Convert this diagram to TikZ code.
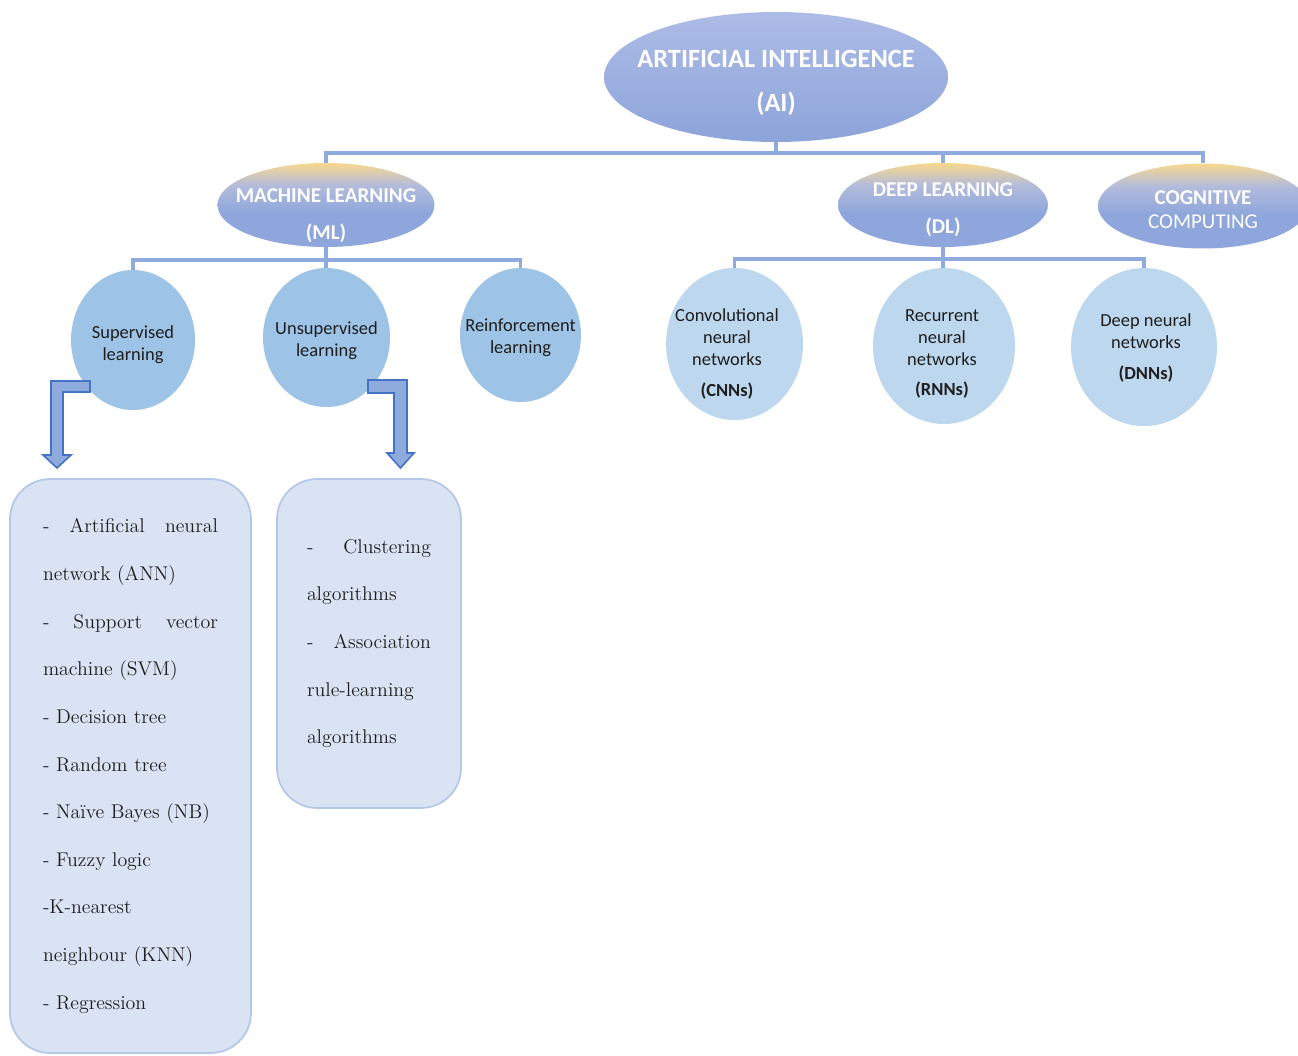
\documentclass[tikz,border=0pt]{standalone}
\usepackage{fontspec}
\setsansfont{Carlito}
\usepackage{xcolor}
\usetikzlibrary{shapes.geometric}

\definecolor{linkblue}{HTML}{8FAADC}
\definecolor{aitop}{HTML}{ADBCE6}
\definecolor{aibot}{HTML}{8DA4DA}
\definecolor{elltop}{HTML}{F6D88E}
\definecolor{ellmid}{HTML}{B4BCDA}
\definecolor{ellbot}{HTML}{8EA6DC}
\definecolor{mlcirc}{HTML}{9DC3E6}
\definecolor{dlcirc}{HTML}{BDD7EE}
\definecolor{boxfill}{HTML}{DAE3F3}
\definecolor{boxline}{HTML}{B4C7E7}
\definecolor{arrowfill}{HTML}{8FAADC}
\definecolor{arrowline}{HTML}{4472C4}
\definecolor{textdark}{HTML}{1E1E1E}

\pgfdeclareverticalshading{goldblue}{100bp}{color(0bp)=(ellbot); color(25bp)=(ellbot); color(45bp)=(ellbot); color(62bp)=(ellmid); color(75bp)=(elltop); color(100bp)=(elltop)}

\newcommand{\spreadline}[2]{\makebox[#1][s]{#2}}

\begin{document}
\begin{tikzpicture}[x=0.02cm,y=-0.02cm,
  aiell/.style={ellipse,inner sep=0pt,top color=aitop,bottom color=aibot},
  subell/.style={ellipse,inner sep=0pt,shade,shading=goldblue},
  mlball/.style={ellipse,inner sep=0pt,fill=mlcirc},
  dlball/.style={ellipse,inner sep=0pt,fill=dlcirc},
  aitxt/.style={font=\sffamily\bfseries\fontsize{15}{25}\selectfont,text=white,align=center,inner sep=0pt},
  subtxt/.style={font=\sffamily\bfseries\fontsize{12}{21}\selectfont,text=white,align=center,inner sep=0pt},
  balltxt/.style={font=\sffamily\fontsize{10.5}{12.5}\selectfont,text=textdark,align=center,inner sep=0pt},
  listbox/.style={rectangle,rounded corners=0.8cm,fill=boxfill,draw=boxline,line width=1pt,
    font=\rmfamily\fontsize{11.3}{27.1}\selectfont,text=textdark,align=left,inner sep=0pt},
  branch/.style={draw=linkblue,line width=2pt},
  barrow/.style={fill=arrowfill,draw=arrowline,line width=0.9pt,line join=miter}]
\fill[white] (0,0) rectangle (1298,1055);
\useasboundingbox (0,0) rectangle (1298,1055);
\clip (0,0) rectangle (1298,1055);

% top level
\node[aiell,minimum width=6.88cm,minimum height=2.6cm] (ai) at (776,77) {};
\node[aitxt] (aitext) at (776,83) {ARTIFICIAL INTELLIGENCE\\(AI)};

\node[subell,minimum width=4.34cm,minimum height=1.68cm] (ml) at (326,205) {};
\node[subell,minimum width=4.2cm,minimum height=1.68cm] (dl) at (943,205) {};
\node[subell,minimum width=4.2cm,minimum height=1.7cm] (cc) at (1203,206) {};
\node[subtxt] (mltext) at (326,216) {MACHINE LEARNING\\(ML)};
\node[subtxt] (dltext) at (943,210) {DEEP LEARNING\\(DL)};
\node[subtxt,font=\sffamily\fontsize{12}{13.7}\selectfont] (cctext) at (1203,210) {\textbf{COGNITIVE}\\COMPUTING};

% machine learning branch
\node[mlball,minimum width=2.48cm,minimum height=2.8cm] (s1) at (133,340) {};
\node[mlball,minimum width=2.54cm,minimum height=2.78cm] (s2) at (326.5,337.5) {};
\node[mlball,minimum width=2.42cm,minimum height=2.68cm] (s3) at (520.5,335) {};
\node[balltxt] (s1text) at (133,345) {Supervised\\learning};
\node[balltxt] (s2text) at (326.5,341) {Unsupervised\\learning};
\node[balltxt] (s3text) at (520.5,338) {Reinforcement\\learning};

% deep learning branch
\node[dlball,minimum width=2.74cm,minimum height=3.04cm] (d1) at (734.5,344) {};
\node[dlball,minimum width=2.84cm,minimum height=3.12cm] (d2) at (944,346) {};
\node[dlball,minimum width=2.92cm,minimum height=3.16cm] (d3) at (1144,347) {};
\node[balltxt] (d1text) at (727,354) {Convolutional\\neural\\networks\\[5pt]\textbf{(CNNs)}};
\node[balltxt] (d2text) at (942,354) {Recurrent\\neural\\networks\\[5pt]\textbf{(RNNs)}};
\node[balltxt] (d3text) at (1146,348) {Deep neural\\networks\\[5pt]\textbf{(DNNs)}};

\coordinate (aibar) at (776,153);
\coordinate (mlbar) at (326,260);
\coordinate (dlbar) at (943,259);
\draw[branch] (ai.south) -- (aibar);
\draw[branch] (ml.north) |- (aibar) -| (cc.north);
\draw[branch] (aibar) -| (dl.north);
\draw[branch] (ml.south) -- (ml.south |- s2.north);
\draw[branch] (s1.north) |- (mlbar) -| (s3.north);
\draw[branch] (dl.south) -- (dl.south |- d2.north);
\draw[branch] (d1.north) |- (dlbar) -| (d3.north);

% algorithm lists
\node[listbox,minimum width=4.82cm,minimum height=11.48cm,text width=3.5cm] (b1) at (130.5,766) {%
\spreadline{3.5cm}{-\hfill Artificial\hfill neural}\\
network (ANN)\\
\spreadline{3.5cm}{-\hfill Support\hfill vector}\\
machine (SVM)\\
- Decision tree\\
- Random tree\\
- Naïve Bayes (NB)\\
- Fuzzy logic\\
-K-nearest\\
neighbour (KNN)\\
- Regression};
\node[listbox,minimum width=3.68cm,minimum height=6.58cm,text width=2.48cm] (b2) at (369,643.5) {%
\spreadline{2.48cm}{-\hfill Clustering}\\
algorithms\\
\spreadline{2.48cm}{-\hfill Association}\\
rule-learning\\
algorithms};

% bent block arrows
\filldraw[barrow] (90,381) -- (51,381) -- (51,455) -- (43,455) -- (57,468) -- (71,455) -- (63,455) -- (63,392) -- (90,392) -- cycle;
\filldraw[barrow] (368,380) -- (407,380) -- (407,453) -- (414,453) -- (400.5,468) -- (387,453) -- (394,453) -- (394,393) -- (368,393) -- cycle;
\end{tikzpicture}
\end{document}
